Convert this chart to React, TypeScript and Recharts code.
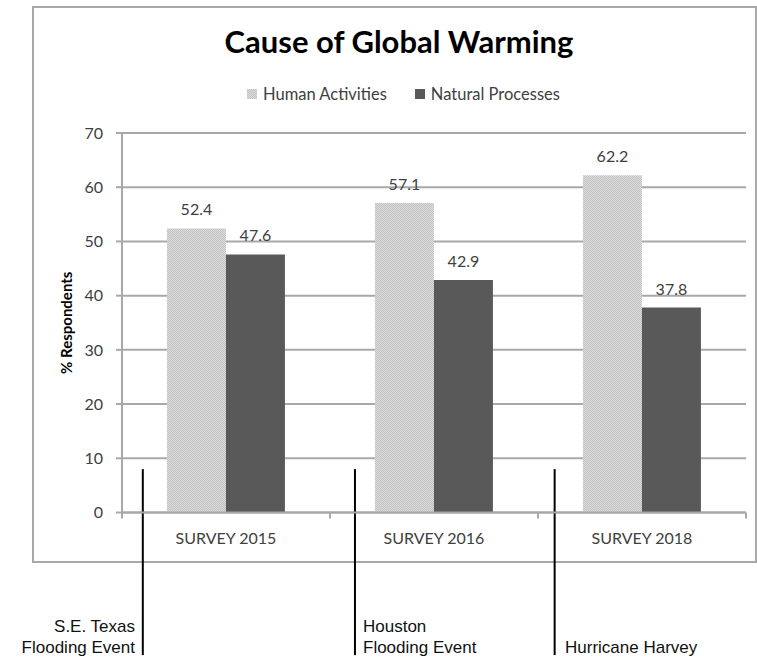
import { Bar, BarChart, CartesianGrid, LabelList, ReferenceLine, XAxis, YAxis } from "recharts";

const categories = ["SURVEY 2015", "SURVEY 2016", "SURVEY 2018"];
const humanActivities = [52.4, 57.1, 62.2];
const naturalProcesses = [47.6, 42.9, 37.8];
const yTicks = [0, 10, 20, 30, 40, 50, 60, 70];

// event markers, placed in category units along the x axis
const eventPositions = [0.1, 1.12, 2.08];
const eventLabels = [["S.E. Texas", "Flooding Event"], ["Houston", "Flooding Event"], ["", "Hurricane Harvey"]];
const categoryBounds = [0, 1, 2, 3];

const data = categories.map((name, i) => ({
  name,
  slot: i + 0.5,
  human: humanActivities[i],
  natural: naturalProcesses[i],
}));

const LIGHT = "url(#dotGrid)";
const DARK = "#595959";
const GRID = "#a8a8a8";
const TEXT = "#404040";
const CAL = "Lato, 'Open Sans', sans-serif";
const ARIAL = "'Liberation Sans', Arial, sans-serif";

const series = [
  { key: "human", label: "Human Activities", fill: LIGHT },
  { key: "natural", label: "Natural Processes", fill: DARK },
];

function DotGrid({ id }: { id: string }) {
  return (
    <pattern id={id} width={2} height={2} patternUnits="userSpaceOnUse">
      <rect width={2} height={2} fill="#dcdcdc" />
      <rect width={1} height={1} fill="#c2c2c2" />
      <rect x={1} y={1} width={1} height={1} fill="#c2c2c2" />
    </pattern>
  );
}

export default function App() {
  return (
    <div style={{ position: "absolute", left: 0, top: 0, width: 757, height: 660, background: "#fff" }}>
      <div
        style={{
          position: "absolute",
          left: 32,
          top: 6,
          width: 721,
          height: 553,
          border: `2px solid ${GRID}`,
        }}
      />
      <div
        style={{
          position: "absolute",
          left: 40,
          top: 25.5,
          width: 718,
          textAlign: "center",
          fontFamily: CAL,
          fontWeight: 700,
          fontSize: 31,
          lineHeight: "30px",
          color: "#000",
        }}
      >
        Cause of Global Warming
      </div>
      <svg width={0} height={0} style={{ position: "absolute" }}>
        <defs>
          <DotGrid id="legendDots" />
        </defs>
      </svg>
      <div
        style={{
          position: "absolute",
          left: 40,
          top: 84,
          width: 727,
          display: "flex",
          justifyContent: "center",
          alignItems: "center",
          fontFamily: CAL,
          fontSize: 16.5,
          color: TEXT,
        }}
      >
        {series.map((s, i) => (
          <div key={s.key} style={{ display: "flex", alignItems: "center", marginLeft: i ? 28 : 0 }}>
            <svg width={10} height={10} style={{ marginRight: 6 }}>
              <rect width={10} height={10} fill={s.fill === LIGHT ? "url(#legendDots)" : s.fill} />
            </svg>
            <span>{s.label}</span>
          </div>
        ))}
      </div>

      <div style={{ position: "absolute", left: 0, top: 0 }}>
        <BarChart
          width={757}
          height={660}
          data={data}
          margin={{ top: 133, right: 11, bottom: 117.5, left: 62 }}
          barCategoryGap="21.6%"
          barGap={0}
        >
          <defs>
            <DotGrid id="dotGrid" />
          </defs>
          <CartesianGrid vertical={false} stroke={GRID} strokeWidth={2} />
          <XAxis
            dataKey="name"
            height={30}
            tickLine={false}
            tickSize={0}
            tickMargin={20}
            axisLine={{ stroke: GRID, strokeWidth: 2 }}
            tick={{ fontFamily: CAL, fontSize: 16, fill: TEXT }}
          />
          <XAxis xAxisId="events" dataKey="slot" type="number" domain={[0, 3]} allowDataOverflow hide />
          <YAxis
            width={60}
            domain={[0, 70]}
            ticks={yTicks}
            interval={0}
            tickSize={6}
            tickMargin={13}
            axisLine={{ stroke: GRID, strokeWidth: 2 }}
            tickLine={{ stroke: GRID, strokeWidth: 2 }}
            tick={{ fontFamily: CAL, fontSize: 16, fill: TEXT }}
            label={{
              value: "% Respondents",
              angle: -90,
              position: "insideLeft",
              offset: 5,
              style: { textAnchor: "middle", fontFamily: CAL, fontWeight: 700, fontSize: 15, fill: "#000" },
            }}
          />
          {series.map((s) => (
            <Bar key={s.key} dataKey={s.key} fill={s.fill} isAnimationActive={false}>
              <LabelList
                dataKey={s.key}
                position="top"
                offset={13}
                style={{ fontFamily: CAL, fontSize: 16, fill: TEXT }}
              />
            </Bar>
          ))}
          {categoryBounds.map((b) => (
            <ReferenceLine
              key={`b${b}`}
              xAxisId="events"
              segment={[{ x: b, y: 0 }, { x: b, y: -1.1 }]}
              stroke={GRID}
              strokeWidth={2}
              ifOverflow="visible"
            />
          ))}
          {eventPositions.map((p) => (
            <ReferenceLine
              key={`e${p}`}
              xAxisId="events"
              segment={[{ x: p, y: 8 }, { x: p, y: -26.3 }]}
              stroke="#000"
              strokeWidth={2}
              ifOverflow="visible"
            />
          ))}
        </BarChart>
      </div>

      {eventLabels.map((lines, i) => {
        const left = i === 0;
        const style: React.CSSProperties = {
          position: "absolute",
          top: 615.6,
          fontFamily: ARIAL,
          fontSize: 17,
          lineHeight: "21px",
          color: "#111",
          whiteSpace: "nowrap",
          textAlign: left ? "right" : "left",
        };
        if (left) style.right = 757 - 135;
        else style.left = [0, 363, 565][i];
        return (
          <div key={i} style={style}>
            {lines.map((l, j) => (
              <div key={j} style={{ height: 21 }}>{l}</div>
            ))}
          </div>
        );
      })}
    </div>
  );
}
